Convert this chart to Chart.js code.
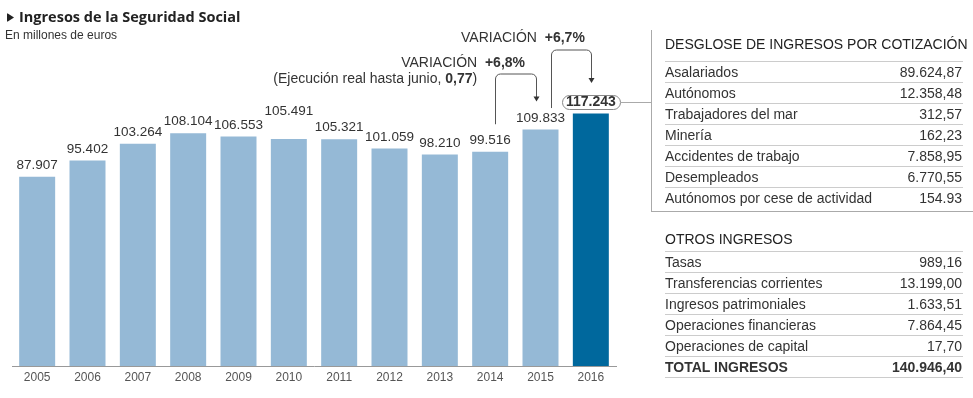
<!DOCTYPE html>
<html lang="es">
<head>
<meta charset="utf-8">
<title>Ingresos de la Seguridad Social</title>
<script src="https://cdn.jsdelivr.net/npm/chart.js@4"></script>
<style>
    html, body { margin: 0; padding: 0; background: #fff; }
    #wrap { position: relative; width: 973px; height: 398px; overflow: hidden; font-family: "Liberation Sans", Arial, sans-serif; color: #333; }
    #c { position: absolute; left: 0; top: 0; }
    .titulo { position: absolute; left: 7px; top: 7px; font-family: "Open Sans", sans-serif; font-weight: 700; font-size: 14.5px; color: #222; white-space: nowrap; }
    .titulo i { display: inline-block; width: 7px; height: 9px; background: #222; margin-right: 5px; clip-path: polygon(0 0, 100% 50%, 0 100%); border-radius: 1px; }
    .sub { position: absolute; left: 5px; top: 28px; font-size: 12px; color: #333; }
    .marco { position: absolute; left: 651px; top: 30px; width: 322px; height: 181px; border-left: 1px solid #aaa; border-bottom: 1px solid #aaa; }
    .tabla { position: absolute; left: 665px; width: 298px; font-size: 14px; }
    .tabla .cab { height: 33px; line-height: 33px; border-bottom: 1px solid #ccc; color: #222; white-space: nowrap; }
    #t2 .cab { height: 23px; line-height: 23px; }
    .tabla .fila { height: 20px; line-height: 20px; border-bottom: 1px solid #ccc; display: flex; justify-content: space-between; white-space: nowrap; }
    .tabla .fila span:last-child { padding-right: 1px; }
    #t1 .fila:last-child { border-bottom: none; }
    .tabla .total { font-weight: 700; }
</style>
</head>
<body>
<div id="wrap">
    <canvas id="c" width="973" height="398"></canvas>
    <div class="titulo"><i></i>Ingresos de la Seguridad Social</div>
    <div class="sub">En millones de euros</div>
    <div class="marco"></div>
    <div class="tabla" id="t1" style="top:28px"></div>
    <div class="tabla" id="t2" style="top:228px"></div>
</div>
<script>
// datos del grafico
var anios = ['2005', '2006', '2007', '2008', '2009', '2010', '2011', '2012', '2013', '2014', '2015', '2016'];
var ingresos = [87907, 95402, 103264, 108104, 106553, 105491, 105321, 101059, 98210, 99516, 109833, 117243];

// desglose por cotizacion
var cotizacionConceptos = ['Asalariados', 'Autónomos', 'Trabajadores del mar', 'Minería', 'Accidentes de trabajo', 'Desempleados', 'Autónomos por cese de actividad'];
var cotizacionImportes = ['89.624,87', '12.358,48', '312,57', '162,23', '7.858,95', '6.770,55', '154.93'];

// otros ingresos
var otrosConceptos = ['Tasas', 'Transferencias corrientes', 'Ingresos patrimoniales', 'Operaciones financieras', 'Operaciones de capital', 'TOTAL INGRESOS'];
var otrosImportes = ['989,16', '13.199,00', '1.633,51', '7.864,45', '17,70', '140.946,40'];

(function () {
    'use strict';

    var FUENTE = '"Liberation Sans", Arial, sans-serif';

    // 87907 -> 87.907
    function miles(v) {
        return String(v).replace(/\B(?=(\d{3})+(?!\d))/g, '.');
    }

    // tablas de la derecha
    function tabla(id, titulo, conceptos, importes, conTotal) {
        var el = document.getElementById(id), html = '<div class="cab">' + titulo + '</div>';
        conceptos.forEach(function (c, i) {
            var cls = (conTotal && i === conceptos.length - 1) ? 'fila total' : 'fila';
            html += '<div class="' + cls + '"><span>' + c + '</span><span>' + importes[i] + '</span></div>';
        });
        el.innerHTML = html;
    }
    tabla('t1', 'DESGLOSE DE INGRESOS POR COTIZACIÓN', cotizacionConceptos, cotizacionImportes, false);
    tabla('t2', 'OTROS INGRESOS', otrosConceptos, otrosImportes, true);

    // texto con partes normales y negritas, alineado a la derecha
    function textoMixto(ctx, partes, xDer, y) {
        var total = 0, anchos = [];
        partes.forEach(function (p) {
            ctx.font = (p[1] ? 'bold ' : '') + '14px ' + FUENTE;
            var w = ctx.measureText(p[0]).width;
            anchos.push(w);
            total += w;
        });
        var x = xDer - total;
        partes.forEach(function (p, i) {
            ctx.font = (p[1] ? 'bold ' : '') + '14px ' + FUENTE;
            ctx.fillText(p[0], x, y);
            x += anchos[i];
        });
    }

    // linea con esquinas redondeadas y flecha hacia abajo
    function conector(ctx, x1, yIni, yArriba, x2, yPunta) {
        x1 = Math.round(x1) + 0.5;
        x2 = Math.round(x2) + 0.5;
        ctx.beginPath();
        ctx.moveTo(x1, yIni);
        ctx.arcTo(x1, yArriba, x2, yArriba, 5);
        ctx.arcTo(x2, yArriba, x2, yPunta, 5);
        ctx.lineTo(x2, yPunta - 4);
        ctx.stroke();
        ctx.beginPath();
        ctx.moveTo(x2 - 3, yPunta - 5);
        ctx.lineTo(x2 + 3, yPunta - 5);
        ctx.lineTo(x2, yPunta);
        ctx.closePath();
        ctx.fill();
    }

    function $each(arr, fn) {
        for (var i = 0; i < arr.length; i++) { fn(arr[i], i); }
    }

    var etiquetas = {
        id: 'etiquetas',
        afterDatasetsDraw: function (chart, args, opts) {
            var ctx = chart.ctx, bars = chart.getDatasetMeta(0).data, ultimo = bars.length - 1, centros = [];
            ctx.save();
            ctx.textBaseline = 'middle';
            ctx.fillStyle = '#333';

            // valores sobre las barras
            $each(bars, function (bar, i) {
                var lift = opts.elevacion[i] !== undefined ? opts.elevacion[i] : opts.elevacionBase;
                var y = bar.y - lift;
                centros.push(y);
                ctx.textAlign = 'center';
                if (i === ultimo) {
                    ctx.font = 'bold 14px ' + FUENTE;
                    ctx.strokeStyle = '#888';
                    ctx.lineWidth = 1;
                    ctx.beginPath();
                    ctx.roundRect(Math.round(bar.x - 29) + 0.5, Math.round(y - 7.5) + 0.5, 58, 14, 7);
                    ctx.stroke();
                    ctx.fillText(miles(ingresos[i]), bar.x, y + 0.5);
                } else {
                    ctx.font = '13.5px ' + FUENTE;
                    ctx.fillText(miles(ingresos[i]), bar.x, y);
                }
            });

            // variaciones
            ctx.strokeStyle = '#555';
            ctx.fillStyle = '#333';
            ctx.lineWidth = 1;
            var b14 = bars[ultimo - 2], b15 = bars[ultimo - 1], b16 = bars[ultimo];
            conector(ctx, b14.x + 5, centros[ultimo - 2] - 16, 74, b15.x - 4.5, 101.5);
            conector(ctx, b15.x + 10.5, centros[ultimo - 1] - 10, 50, b16.x + 0.5, 83);

            ctx.textAlign = 'left';
            textoMixto(ctx, [['VARIACIÓN  ', false], ['+6,8%', true]], b15.x - 15.5, 63);
            textoMixto(ctx, [['(Ejecución real hasta junio, ', false], ['0,77', true], [')', false]], b14.x - 13, 79);
            textoMixto(ctx, [['VARIACIÓN  ', false], ['+6,7%', true]], b16.x - 6, 38);

            // union con la tabla
            ctx.strokeStyle = '#aaa';
            ctx.beginPath();
            ctx.moveTo(b16.x + 29.5, Math.round(centros[ultimo]) + 0.5);
            ctx.lineTo(651, Math.round(centros[ultimo]) + 0.5);
            ctx.stroke();
            ctx.restore();
        }
    };

    var colores = anios.map(function (a, i) {
        return i === anios.length - 1 ? '#00689d' : '#95b9d6';
    });

    new Chart(document.getElementById('c').getContext('2d'), {
        type: 'bar',
        data: {
            labels: anios,
            datasets: [{
                data: ingresos,
                backgroundColor: colores,
                borderWidth: 0,
                categoryPercentage: 1,
                barPercentage: 0.715
            }]
        },
        plugins: [etiquetas],
        options: {
            responsive: false,
            devicePixelRatio: 1,
            animation: false,
            layout: { padding: { left: 12, right: 357, top: 0, bottom: 9.6 } },
            plugins: {
                legend: { display: false },
                tooltip: { enabled: false },
                etiquetas: { elevacionBase: 11.5, elevacion: { 5: 28 } }
            },
            scales: {
                x: {
                    grid: { display: false, drawTicks: false },
                    border: { display: true, color: '#999' },
                    ticks: { color: '#555', padding: 4, font: { family: FUENTE, size: 12 } }
                },
                y: { display: false, min: 0, max: 170000 }
            }
        }
    });
})();
</script>
</body>
</html>
